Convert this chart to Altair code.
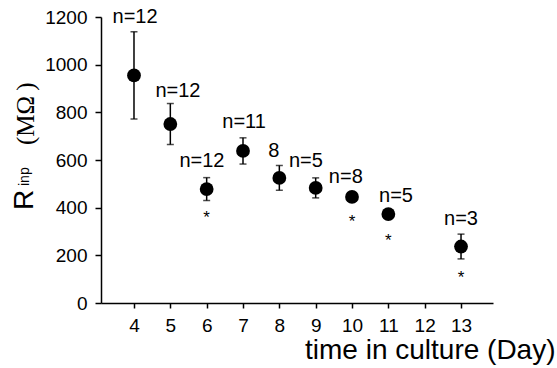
import altair as alt
import pandas as pd

# Data
days = [4, 5, 6, 7, 8, 9, 10, 11, 13]
rinp_mean = [955, 751, 478, 638, 525, 483, 445, 373, 237]
rinp_sem = [183, 86, 48, 55, 52, 42, 20, 15, 52]

n_labels = ["n=12", "n=12", "n=12", "n=11", "8", "n=5", "n=8", "n=5", "n=3"]
n_label_x = [4.03, 5.21, 5.87, 7.03, 7.85, 8.73, 9.83, 11.21, 13.0]
n_label_y = [1175, 864, 571, 734, 613, 571, 504, 424, 327]

star_days = [6, 10, 11, 13]
star_y = [378, 361, 281, 126]

x_ticks = [4, 5, 6, 7, 8, 9, 10, 11, 12, 13]
y_ticks = [0, 200, 400, 600, 800, 1000, 1200]

FONT = "Liberation Sans"

df = pd.DataFrame({"day": days, "mean": rinp_mean, "sem": rinp_sem})
df["lo"] = df["mean"] - df["sem"]
df["hi"] = df["mean"] + df["sem"]
lab = pd.DataFrame({"x": n_label_x, "y": n_label_y, "t": n_labels})
stars = pd.DataFrame({"x": star_days, "y": star_y, "t": ["*"] * len(star_days)})

xs = alt.Scale(domain=[3.092, 13.88], nice=False, zero=False)
ys = alt.Scale(domain=[0, 1200], nice=False)

xax = alt.Axis(values=x_ticks, title="time in culture (Day)", grid=False,
               tickSize=5, labelPadding=8, labelFontSize=19, labelFont=FONT,
               labelColor="black", domainColor="black", tickColor="black",
               domainWidth=1.5, tickWidth=1.5, labelFlush=False, labelOverlap=False,
               titleFont=FONT, titleFontSize=28, titleFontWeight="normal",
               titleColor="black", titleAlign="right", titleAnchor="end",
               titleBaseline="alphabetic", titleX=454, titleY=55)
yax = alt.Axis(values=y_ticks, title=None, grid=False, tickSize=6, format="d",
               labelPadding=8, labelFontSize=19, labelFont=FONT,
               labelColor="black", domainColor="black", tickColor="black",
               domainWidth=1.5, tickWidth=1.5, labelFlush=False)

base = alt.Chart(df)

rules = base.mark_rule(color="black", strokeWidth=1.5).encode(
    x=alt.X("day:Q", scale=xs, axis=xax),
    y=alt.Y("lo:Q", scale=ys, axis=yax),
    y2="hi:Q",
)
cap_lo = base.mark_tick(color="black", orient="horizontal", size=7, thickness=1.5).encode(
    x=alt.X("day:Q", scale=xs), y=alt.Y("lo:Q", scale=ys))
cap_hi = base.mark_tick(color="black", orient="horizontal", size=7, thickness=1.5).encode(
    x=alt.X("day:Q", scale=xs), y=alt.Y("hi:Q", scale=ys))
pts = base.mark_circle(color="black", opacity=1, size=190).encode(
    x=alt.X("day:Q", scale=xs), y=alt.Y("mean:Q", scale=ys))

ntext = alt.Chart(lab).mark_text(font=FONT, fontSize=20, color="black",
                                 align="center", baseline="alphabetic").encode(
    x=alt.X("x:Q", scale=xs), y=alt.Y("y:Q", scale=ys), text="t:N")

stext = alt.Chart(stars).mark_text(font=FONT, fontSize=17, color="black",
                                   align="center", baseline="alphabetic", dy=10).encode(
    x=alt.X("x:Q", scale=xs), y=alt.Y("y:Q", scale=ys), text="t:N")

# Y axis title built from pieces: R, subscript "inp", and "(MΩ )"
title_df = pd.DataFrame({"a": [0]})
t_r = alt.Chart(title_df).mark_text(text="R", font=FONT, fontSize=28, angle=270,
                                    align="left", baseline="alphabetic", color="black").encode(
    x=alt.value(-68), y=alt.value(193))
t_sub = alt.Chart(title_df).mark_text(text="inp", font=FONT, fontSize=14, angle=270,
                                      align="left", baseline="alphabetic", color="black").encode(
    x=alt.value(-72), y=alt.value(169))
t_unit = alt.Chart(title_df).mark_text(text="(MΩ\u2009)", font="Liberation Serif", fontSize=25,
                                       angle=270, align="left", baseline="alphabetic",
                                       color="black").encode(
    x=alt.value(-67), y=alt.value(128))

chart = alt.layer(rules, cap_lo, cap_hi, pts, ntext, stext, t_r, t_sub, t_unit).properties(
    width=392, height=286,
    autosize=alt.AutoSizeParams(type="none"),
    padding={"left": 101, "top": 17, "right": 64, "bottom": 65},
    background="white",
).configure_view(stroke=None)

chart.save("out.html", embed_options={"renderer": "svg", "actions": False})
